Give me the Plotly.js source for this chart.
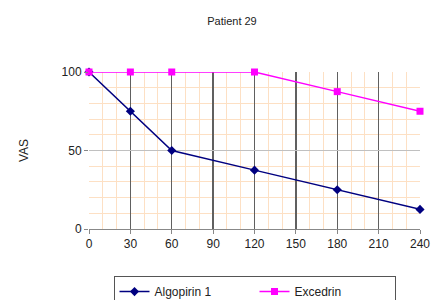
<!DOCTYPE html>
<html><head><meta charset="utf-8">
<script src="https://cdn.plot.ly/plotly-3.0.1.min.js"></script>
<style>html,body{margin:0;padding:0;background:#fff}#c{width:432px;height:300px}</style>
</head><body><div id="c"></div>
<script>
const times = [0, 30, 60, 120, 180, 240];
const algopirin = [100, 75, 50, 37.5, 25, 12.5];
const excedrin = [100, 100, 100, 100, 87.5, 75];
const xTicks = [0, 30, 60, 90, 120, 150, 180, 210, 240];
const yTicks = [0, 50, 100];

const traces = [
  {x: times, y: algopirin, name: 'Algopirin 1', mode: 'lines+markers', cliponaxis: false,
   line: {color: '#000080', width: 1.5}, marker: {symbol: 'diamond', size: 7, color: '#000080'}},
  {x: times, y: excedrin, name: 'Excedrin', mode: 'lines+markers', cliponaxis: false,
   line: {color: '#ff00ff', width: 1.5}, marker: {symbol: 'square', size: 7, color: '#ff00ff'}}
];
const layout = {
  width: 432, height: 300,
  margin: {l: 89, r: 12, t: 72, b: 71, autoexpand: false},
  paper_bgcolor: '#fff', plot_bgcolor: '#fff',
  font: {family: 'Liberation Sans, Arial, sans-serif', size: 12, color: '#222'},
  title: {text: 'Patient 29', font: {size: 11}, x: 0.537, xanchor: 'center', y: 0.93, yanchor: 'middle'},
  showlegend: true,
  legend: {orientation: 'h', x: 0.5, xanchor: 'center', y: -0.3, yanchor: 'top',
    bordercolor: '#555', borderwidth: 1, bgcolor: '#fff', font: {size: 12},
    entrywidth: 95, entrywidthmode: 'pixels'},
  xaxis: {range: [0, 240], tickvals: xTicks, ticktext: xTicks.map(String), showgrid: true,
    gridcolor: '#606060', gridwidth: 1.3, zeroline: false, showline: true, linecolor: '#888',
    ticks: 'outside', ticklen: 4, tickcolor: '#888', fixedrange: true,
    minor: {dtick: 10, tick0: 0, showgrid: true, gridcolor: '#fde0c4', gridwidth: 1}},
  yaxis: {range: [0, 100], tickvals: yTicks, ticktext: yTicks.map(String), showgrid: true,
    gridcolor: '#c0c0c0', gridwidth: 1.5, zeroline: false, showline: false,
    ticks: 'outside', ticklen: 4, tickcolor: '#888', fixedrange: true,
    title: {text: 'VAS', font: {size: 12}, standoff: 30},
    minor: {dtick: 10, tick0: 0, showgrid: true, gridcolor: '#fde0c4', gridwidth: 1}}
};
Plotly.newPlot('c', traces, layout, {displayModeBar: false, staticPlot: true});
</script></body></html>
